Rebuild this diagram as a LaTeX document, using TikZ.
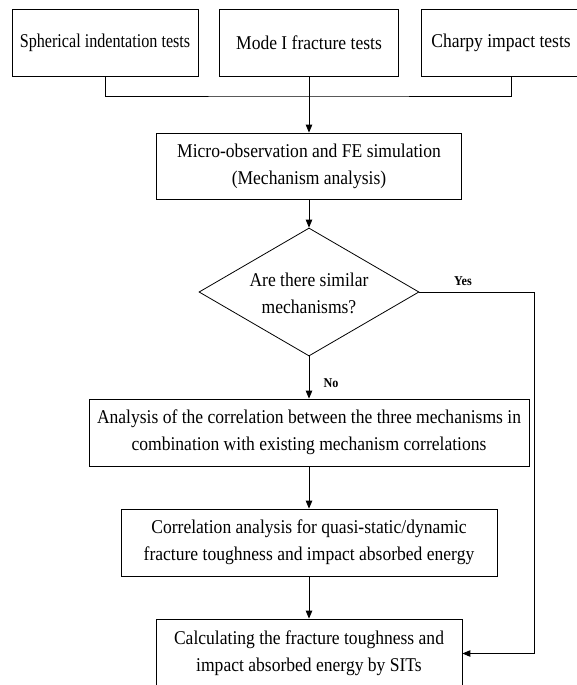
\documentclass[tikz,border=0pt]{standalone}
\usepackage{fontspec}
\setmainfont[FakeStretch=0.9]{Liberation Serif}
\usetikzlibrary{arrows.meta,shapes.geometric}
\begin{document}
\begin{tikzpicture}[x=1pt,y=-1pt,
  box/.style={draw, line width=0.8pt, inner sep=0pt, align=center,
    font=\fontsize{19.5}{27}\selectfont},
  txt/.style={inner sep=0pt, align=center, font=\fontsize{19.5}{27}\selectfont},
  ln/.style={line width=0.9pt},
  arr/.style={line width=0.9pt, -{Triangle[length=8pt,width=6.5pt]}},
  lab/.style={inner sep=0pt, font=\fontsize{13.5}{15}\selectfont\bfseries}]
\useasboundingbox (0,0) rectangle (576,685);
\node[box, minimum width=186pt, minimum height=67pt] (b1) at (105,42.5) {\scalebox{0.92}[1]{Spherical indentation tests}};
\node[box, minimum width=179pt, minimum height=67pt] (b2) at (309,42.5) {Mode I fracture tests};
\node[box, minimum width=180pt, minimum height=67pt] (b3) at (511,42.5) {Charpy impact tests\hspace*{20pt}};
\node[box, minimum width=305pt, minimum height=66pt] (b4) at (309,166) {Micro-observation and FE simulation\\(Mechanism analysis)};
\node[draw, line width=0.8pt, diamond, inner sep=0pt, minimum width=220pt, minimum height=128pt] (d) at (309,292) {};
\node[txt] (dt) at (309,293) {Are there similar\\mechanisms?};
\node[box, minimum width=440pt, minimum height=67pt] (b5) at (309,432.5) {Analysis of the correlation between the three mechanisms in\\combination with existing mechanism correlations};
\node[box, minimum width=376pt, minimum height=67pt] (b6) at (309,542.5) {Correlation analysis for quasi-static/dynamic\\fracture toughness and impact absorbed energy};
\node[box, minimum width=306pt, minimum height=69pt] (b7) at (309,653.5) {Calculating the fracture toughness and\\impact absorbed energy by SITs};
\coordinate (j) at (309,96);
\coordinate (yc) at (534,292);
\draw[ln] (b1.south) |- (j) -| (b3.south);
\draw[arr] (b2.south) -- (b4.north);
\draw[arr] (b4.south) -- (d.north);
\draw[arr] (d.south) -- (b5.north);
\draw[arr] (b5.south) -- (b6.north);
\draw[arr] (b6.south) -- (b7.north);
\draw[arr] (d.east) -- (yc) |- (b7.east);
\node[lab] (yes) at (463,281) {Yes};
\node[lab] (no) at (331,383) {No};
\end{tikzpicture}
\end{document}
